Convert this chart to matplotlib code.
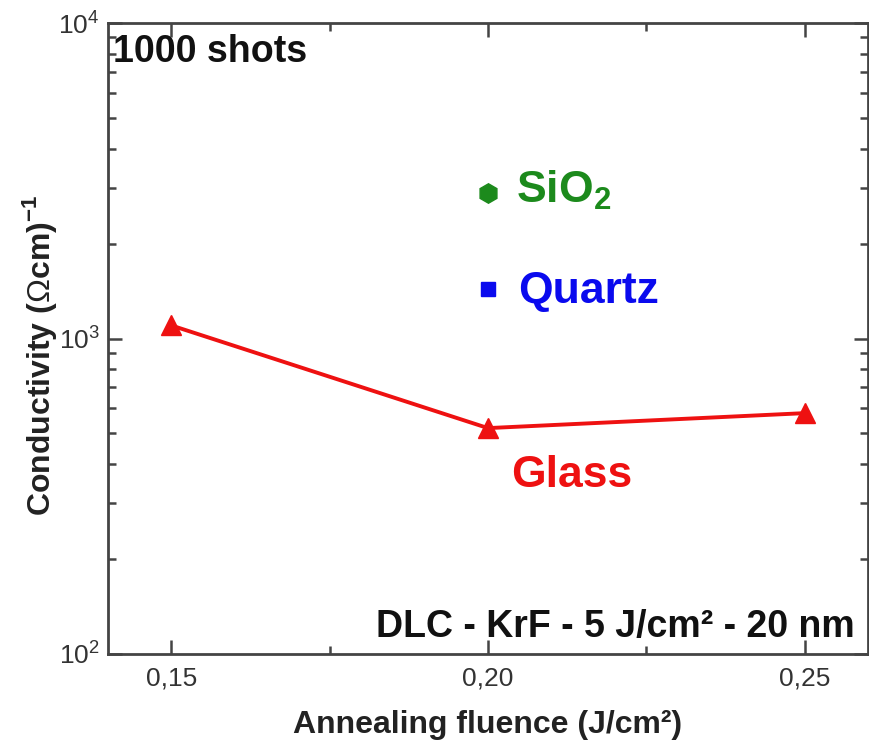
import matplotlib.pyplot as plt
from matplotlib.ticker import FixedLocator, LogLocator, NullFormatter

plt.rcParams['font.family'] = ['Liberation Sans', 'DejaVu Sans']
plt.rcParams['mathtext.fontset'] = 'custom'
plt.rcParams['mathtext.rm'] = 'Liberation Sans'
plt.rcParams['mathtext.bf'] = 'Liberation Sans:bold'

# glass substrate series
fluence_glass = [0.15, 0.20, 0.25]
sigma_glass = [1100, 520, 580]

# single points for the other substrates
fluence_sio2 = [0.20]
sigma_sio2 = [2900]
fluence_quartz = [0.20]
sigma_quartz = [1430]

x_ticks = [0.15, 0.20, 0.25]
x_labels = ['0,15', '0,20', '0,25']

red = '#ee1111'
green = '#1c8a1c'
blue = '#0a0aee'
spine = '#444444'

fig = plt.figure(figsize=(8.69, 7.47), dpi=100)
ax = fig.add_axes([0.1243, 0.1245, 0.8745, 0.8447])

ax.plot(fluence_glass, sigma_glass, color=red, lw=2.8, marker='^', ms=14.5,
        markeredgecolor=red, zorder=3)
ax.plot(fluence_sio2, sigma_sio2, ls='none', marker='h', ms=14, color=green)
ax.plot(fluence_quartz, sigma_quartz, ls='none', marker='s', ms=10.5, color=blue)

ax.set_yscale('log')
ax.set_xlim(0.14, 0.26)
ax.set_ylim(100, 10000)

ax.set_xticks(x_ticks)
ax.set_xticklabels(x_labels)
ax.xaxis.set_minor_locator(FixedLocator([0.175, 0.225]))
ax.yaxis.set_minor_locator(LogLocator(base=10, subs=range(2, 10)))
ax.yaxis.set_minor_formatter(NullFormatter())

ax.tick_params(which='both', direction='in', top=True, right=True,
               color=spine, width=1.8)
ax.tick_params(which='major', length=10, labelsize=19, labelcolor='#333333')
ax.tick_params(which='minor', length=6)
ax.tick_params(axis='x', which='major', pad=9)
ax.tick_params(axis='y', which='major', pad=6)
for s in ax.spines.values():
    s.set_color(spine)
    s.set_linewidth(2)

ax.set_xlabel('Annealing fluence (J/cm²)', fontsize=23, fontweight='bold',
              color='#222222')
ax.set_ylabel(r'Conductivity ($\Omega$cm)$^{\mathbf{-1}}$', fontsize=23,
              fontweight='bold', color='#222222')
ax.xaxis.set_label_coords(0.5, -0.088)
ax.yaxis.set_label_coords(-0.064, 0.474)

ax.text(0.0066, 0.938, '1000 shots', transform=ax.transAxes, fontsize=27,
        fontweight='bold', va='baseline', ha='left', color='#111111')
ax.text(0.983, 0.027, 'DLC - KrF - 5 J/cm² - 20 nm', transform=ax.transAxes,
        fontsize=27, fontweight='bold', va='baseline', ha='right',
        color='#111111')

ax.text(0.2044, 2690, r'SiO$_\mathbf{2}$', fontsize=32,
        fontweight='bold', color=green, va='baseline', ha='left')
ax.text(0.2048, 1300, 'Quartz', fontsize=32, fontweight='bold',
        color=blue, va='baseline', ha='left')
ax.text(0.2036, 338, 'Glass', fontsize=32, fontweight='bold', color=red,
        va='baseline', ha='left')

fig.savefig('out.png', dpi=100)
